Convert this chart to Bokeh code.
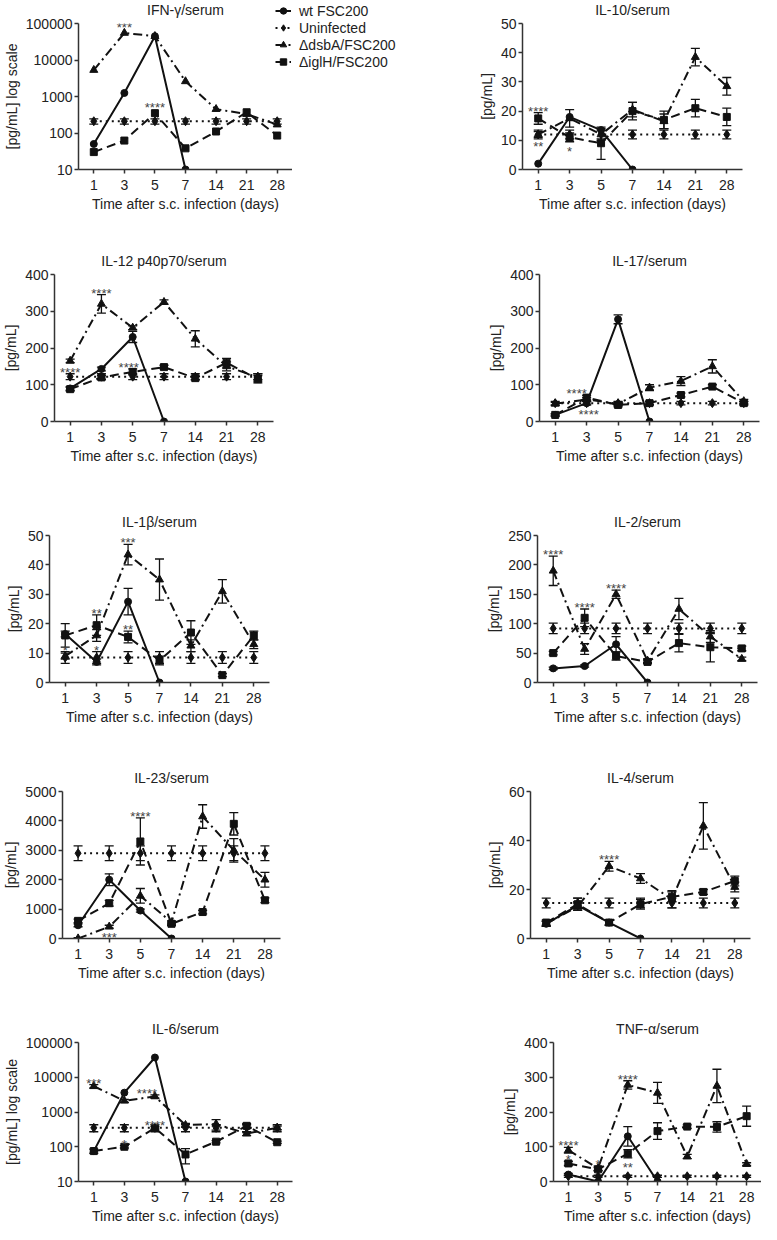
from bokeh.plotting import figure
from bokeh.layouts import column, row
from bokeh.models import (Range1d, FixedTicker, NumeralTickFormatter, Whisker, TeeHead,
                          ColumnDataSource, Legend, LegendItem)
from bokeh.embed import file_html
from bokeh.resources import INLINE
from bokeh.core.properties import value

FONT = "Liberation Sans"
DAYS = ["1", "3", "5", "7", "14", "21", "28"]
SERIES_NAMES = ["wt FSC200", "Uninfected", "ΔdsbA/FSC200", "ΔiglH/FSC200"]

# ---------------- data (value, error) ----------------
ifn_wt = [50, 1250, 45000, 10]
ifn_wt_err = [0, 0, 0, 0]
ifn_un = [210, 210, 210, 210, 210, 210, 210]
ifn_un_err = [35, 35, 35, 35, 35, 35, 35]
ifn_dsba = [5300, 55000, 45000, 2600, 450, 330, 170]
ifn_dsba_err = [0, 0, 0, 0, 0, 0, 0]
ifn_iglh = [30, 62, 350, 38, 110, 370, 85]
ifn_iglh_err = [0, 0, 0, 0, 0, 0, 0]

il10_wt = [2, 18, 13.5, 0]
il10_wt_err = [0, 0, 0, 0]
il10_un = [12, 12, 12, 12, 12, 12, 12]
il10_un_err = [1.5, 1.5, 1.5, 1.5, 1.5, 1.5, 1.5]
il10_dsba = [12, 17.5, 12, 20.5, 16.5, 38.5, 28.5]
il10_dsba_err = [1, 3, 2, 2.5, 2.5, 3, 3]
il10_iglh = [17.5, 11, 9, 20, 17, 21, 18]
il10_iglh_err = [2, 1.5, 5.5, 3, 3, 3, 3]

il12_wt = [90, 143, 230, 0]
il12_wt_err = [5, 5, 15, 0]
il12_un = [122, 122, 122, 122, 122, 122, 122]
il12_un_err = [8, 8, 8, 8, 8, 8, 8]
il12_dsba = [165, 320, 255, 325, 225, 150, 120]
il12_dsba_err = [5, 25, 5, 6, 22, 12, 10]
il12_iglh = [88, 120, 135, 148, 118, 160, 115]
il12_iglh_err = [5, 5, 8, 5, 5, 12, 10]

il17_wt = [18, 50, 278, 0]
il17_wt_err = [3, 5, 12, 0]
il17_un = [50, 50, 50, 50, 50, 50, 50]
il17_un_err = [5, 5, 5, 5, 5, 5, 5]
il17_dsba = [48, 60, 48, 92, 110, 150, 55]
il17_dsba_err = [4, 5, 5, 8, 12, 18, 5]
il17_iglh = [18, 65, 45, 50, 72, 95, 50]
il17_iglh_err = [3, 6, 5, 5, 5, 5, 5]

il1b_wt = [16.5, 7, 27.5, 0]
il1b_wt_err = [1, 1, 4.5, 0]
il1b_un = [8.5, 8.5, 8.5, 8.5, 8.5, 8.5, 8.5]
il1b_un_err = [2, 2, 2, 2, 2, 2, 2]
il1b_dsba = [9, 16, 43.5, 35, 12.5, 31, 13]
il1b_dsba_err = [1, 2, 3.5, 7, 2, 4, 1.5]
il1b_iglh = [16, 19.5, 15.5, 7.5, 17, 2.5, 16]
il1b_iglh_err = [4, 3.5, 2, 1.5, 4, 0.5, 1.5]

il2_wt = [24, 28, 65, 0]
il2_wt_err = [2, 2, 13, 0]
il2_un = [92, 92, 92, 92, 92, 92, 92]
il2_un_err = [9, 9, 9, 9, 9, 9, 9]
il2_dsba = [190, 57, 150, 37, 125, 78, 40]
il2_dsba_err = [25, 9, 7, 3, 18, 10, 3]
il2_iglh = [50, 110, 45, 35, 67, 60, 58]
il2_iglh_err = [3, 15, 7, 3, 15, 25, 4]

il23_wt = [450, 2000, 950, 0]
il23_wt_err = [50, 200, 50, 0]
il23_un = [2900, 2900, 2900, 2900, 2900, 2900, 2900]
il23_un_err = [250, 250, 250, 250, 250, 250, 250]
il23_dsba = [0, 400, 1450, 550, 4150, 3000, 2000]
il23_dsba_err = [30, 50, 250, 50, 400, 400, 250]
il23_iglh = [600, 1200, 3300, 500, 900, 3900, 1300]
il23_iglh_err = [60, 100, 800, 60, 60, 380, 80]

il4_wt = [6, 13.5, 6.5, 0]
il4_wt_err = [1, 1.5, 1, 0]
il4_un = [14.5, 14.5, 14.5, 14.5, 14.5, 14.5, 14.5]
il4_un_err = [2, 2, 2, 2, 2, 2, 2]
il4_dsba = [6, 13, 29.5, 24.5, 16, 46, 21]
il4_dsba_err = [1, 1.5, 2, 2, 3.5, 9.5, 2]
il4_iglh = [6.5, 14, 6.5, 14, 17, 19, 23.5]
il4_iglh_err = [1, 2.5, 1, 2, 2, 1, 2]

il6_wt = [75, 3600, 37000, 10]
il6_wt_err = [0, 0, 0, 0]
il6_un = [350, 350, 350, 350, 350, 350, 350]
il6_un_err = [80, 80, 80, 80, 80, 80, 80]
il6_dsba = [5500, 2100, 2800, 420, 450, 240, 350]
il6_dsba_err = [600, 200, 300, 50, 150, 30, 40]
il6_iglh = [75, 100, 350, 60, 140, 400, 135]
il6_iglh_err = [10, 8, 30, 28, 10, 60, 10]

tnf_wt = [20, 0, 130, 0]
tnf_wt_err = [3, 0, 28, 0]
tnf_un = [15, 15, 15, 15, 15, 15, 15]
tnf_un_err = [3, 3, 3, 3, 3, 3, 3]
tnf_dsba = [90, 38, 278, 255, 72, 275, 50]
tnf_dsba_err = [8, 6, 12, 30, 6, 48, 4]
tnf_iglh = [52, 35, 80, 145, 158, 157, 188]
tnf_iglh_err = [6, 5, 12, 24, 5, 15, 29]

# significance marks: (day, series, text, above?, x-offset px)
ifn_sig = [("3", "dsba", "***", True, 0), ("5", "iglh", "****", True, 0)]
il10_sig = [("1", "iglh", "****", True, 0), ("1", "dsba", "**", False, 0), ("3", "iglh", "*", False, 0)]
il12_sig = [("3", "dsba", "****", True, 0), ("1", "un", "****", True, 0), ("5", "iglh", "****", True, -4)]
il17_sig = [("3", "iglh", "****", True, -10), ("3", "wt", "****", False, 2)]
il1b_sig = [("1", "un", "*", True, 0), ("3", "un", "*", True, 0), ("3", "iglh", "**", True, 0),
            ("5", "dsba", "***", True, 0), ("5", "iglh", "**", True, 0)]
il2_sig = [("1", "dsba", "****", True, 0), ("3", "iglh", "****", True, 0), ("5", "dsba", "****", True, 0)]
il23_sig = [("5", "iglh", "****", True, 0), ("3", "dsba", "***", False, 0)]
il4_sig = [("5", "dsba", "****", True, 0)]
il6_sig = [("1", "dsba", "***", True, 0), ("5", "dsba", "****", True, -8),
           ("5", "iglh", "****", True, 0), ("3", "iglh", "*", True, 0)]
tnf_sig = [("1", "dsba", "****", True, 0), ("1", "iglh", "*", True, 0), ("3", "dsba", "*", True, 0),
           ("5", "dsba", "****", True, 0), ("5", "iglh", "**", False, 0)]

STYLE = {
    "un": dict(dash="2 4", marker="diamond", size=9),
    "iglh": dict(dash="9 5", marker="square", size=7),
    "dsba": dict(dash="9 4 2 4", marker="triangle", size=8),
    "wt": dict(dash="solid", marker="circle", size=7),
}
ORDER = ["un", "iglh", "dsba", "wt"]
INK = "#111111"


def style_axis(ax, label_standoff):
    ax.axis_line_color = "#333333"
    ax.axis_line_width = 1.5
    ax.major_tick_line_color = "#333333"
    ax.major_tick_line_width = 1.5
    ax.major_tick_out = 4
    ax.major_tick_in = 0
    ax.minor_tick_line_color = None
    ax.major_label_text_font = FONT
    ax.major_label_text_font_size = "14px"
    ax.major_label_text_color = "#222222"
    ax.major_label_standoff = label_standoff
    ax.axis_label_text_font = FONT
    ax.axis_label_text_font_size = "14px"
    ax.axis_label_text_font_style = "normal"
    ax.axis_label_text_color = "#222222"
    ax.axis_label_standoff = 3


def panel(title, log, ymax, yticks, data, sigs, lb, fw, rb, T, fh, B, tstand, mtop=0):
    kw = dict(y_axis_type="log") if log else {}
    yr = Range1d(10, 100000) if log else Range1d(0, ymax)
    p = figure(width=lb + fw + rb, height=T + fh + B, x_range=Range1d(0.5, 7.5), y_range=yr,
               output_backend="svg", toolbar_location=None, margin=(mtop, 0, 0, 0),
               min_border_left=lb, min_border_right=rb, min_border_top=T, min_border_bottom=B, **kw)
    p.title.text = title
    p.title.align = "center"
    p.title.text_font = FONT
    p.title.text_font_size = "14px"
    p.title.text_font_style = "normal"
    p.title.text_color = "#222222"
    p.title.standoff = tstand
    p.xgrid.visible = False
    p.ygrid.visible = False
    p.outline_line_color = None
    p.xaxis.ticker = FixedTicker(ticks=list(range(1, len(DAYS) + 1)))
    p.xaxis.major_label_overrides = {i + 1: dd for i, dd in enumerate(DAYS)}
    p.xaxis.axis_label = "Time after s.c. infection (days)"
    p.yaxis.ticker = FixedTicker(ticks=yticks)
    p.yaxis.formatter = NumeralTickFormatter(format="0")
    p.yaxis.axis_label = "[pg/mL] log scale" if log else "[pg/mL]"
    style_axis(p.xaxis[0], 6)
    style_axis(p.yaxis[0], 2)

    for key in ORDER:
        vals, errs = data[key]
        st = STYLE[key]
        xs = list(range(1, len(vals) + 1))
        src = ColumnDataSource(dict(x=xs, y=vals))
        p.line("x", "y", source=src, line_color=INK, line_width=2, line_dash=st["dash"])
        wx = [x for x, e in zip(xs, errs) if e > 0]
        wu = [v + e for v, e in zip(vals, errs) if e > 0]
        wl = [v - e for v, e in zip(vals, errs) if e > 0]
        if wx:
            wsrc = ColumnDataSource(dict(x=wx, upper=wu, lower=wl))
            p.add_layout(Whisker(source=wsrc, base="x", upper="upper", lower="lower",
                                 line_color=INK, line_width=1.3,
                                 upper_head=TeeHead(size=9, line_color=INK, line_width=1.3),
                                 lower_head=TeeHead(size=9, line_color=INK, line_width=1.3)))
        p.scatter("x", "y", source=src, marker=st["marker"], size=st["size"],
                  fill_color=INK, line_color=INK)

    for day, key, txt, above, dx in sigs:
        vals, errs = data[key]
        i = DAYS.index(day)
        y = vals[i] + errs[i] if above else vals[i] - errs[i]
        if log and y <= 0:
            y = 11
        if above:
            yo = 6 if errs[i] > 0 else 2
        else:
            yo = 2
        p.text(x=[i + 1], y=[y], text=[txt], x_offset=dx, y_offset=yo,
               text_align="center", text_baseline=("bottom" if above else "top"),
               text_font=value(FONT), text_font_size="13px", text_color="#444444")
    return p


def legend_fig():
    p = figure(width=167, height=251, x_range=Range1d(0, 1), y_range=Range1d(0, 1),
               output_backend="svg", toolbar_location=None, title_location=None,
               min_border_left=0, min_border_right=0, min_border_top=0, min_border_bottom=0,
               x_axis_location=None, y_axis_location=None, margin=(-28, 0, 0, -17))
    p.xgrid.visible = False
    p.ygrid.visible = False
    p.outline_line_color = None
    p.background_fill_color = None
    p.border_fill_color = None
    items = []
    for key, name in zip(["wt", "un", "dsba", "iglh"], SERIES_NAMES):
        st = STYLE[key]
        ln = p.line(x=[-5, -4], y=[-5, -4], line_color=INK, line_width=2, line_dash=st["dash"])
        mk = p.scatter(x=[-5], y=[-5], marker=st["marker"], size=st["size"],
                       fill_color=INK, line_color=INK)
        items.append(LegendItem(label=name, renderers=[ln, mk]))
    leg = Legend(items=items, location="top_left", background_fill_alpha=0,
                 border_line_color=None, padding=0, margin=0, spacing=0,
                 label_height=17, glyph_height=17, glyph_width=16, label_standoff=8,
                 label_text_font=FONT, label_text_font_size="14px", label_text_color="#222222")
    p.add_layout(leg)
    return p


def d(wt, wte, un, une, ds, dse, ig, ige):
    return {"wt": (wt, wte), "un": (un, une), "dsba": (ds, dse), "iglh": (ig, ige)}


LW, RW = 442, 319
log_ticks = [10, 100, 1000, 10000, 100000]

p_ifn = panel("IFN-γ/serum", True, None, log_ticks,
              d(ifn_wt, ifn_wt_err, ifn_un, ifn_un_err, ifn_dsba, ifn_dsba_err, ifn_iglh, ifn_iglh_err),
              ifn_sig, 72, 220, 0, 29, 147, 75, 12, mtop=-7)
p_leg = legend_fig()
p_il10 = panel("IL-10/serum", False, 50, [0, 10, 20, 30, 40, 50],
               d(il10_wt, il10_wt_err, il10_un, il10_un_err, il10_dsba, il10_dsba_err, il10_iglh, il10_iglh_err),
               il10_sig, 80, 220, RW - 80 - 220, 29, 147, 75, 12, mtop=-7)
p_il12 = panel("IL-12 p40p70/serum", False, 400, [0, 100, 200, 300, 400],
               d(il12_wt, il12_wt_err, il12_un, il12_un_err, il12_dsba, il12_dsba_err, il12_iglh, il12_iglh_err),
               il12_sig, 53, 220, LW - 53 - 220, 30, 147, 84, 12)
p_il17 = panel("IL-17/serum", False, 400, [0, 100, 200, 300, 400],
               d(il17_wt, il17_wt_err, il17_un, il17_un_err, il17_dsba, il17_dsba_err, il17_iglh, il17_iglh_err),
               il17_sig, 97, 220, RW - 97 - 220, 30, 147, 84, 12)
p_il1b = panel("IL-1β/serum", False, 50, [0, 10, 20, 30, 40, 50],
               d(il1b_wt, il1b_wt_err, il1b_un, il1b_un_err, il1b_dsba, il1b_dsba_err, il1b_iglh, il1b_iglh_err),
               il1b_sig, 49, 220, LW - 49 - 220, 30, 147, 79, 12)
p_il2 = panel("IL-2/serum", False, 250, [0, 50, 100, 150, 200, 250],
              d(il2_wt, il2_wt_err, il2_un, il2_un_err, il2_dsba, il2_dsba_err, il2_iglh, il2_iglh_err),
              il2_sig, 95, 220, RW - 95 - 220, 30, 147, 79, 12)
p_il23 = panel("IL-23/serum", False, 5000, [0, 1000, 2000, 3000, 4000, 5000],
               d(il23_wt, il23_wt_err, il23_un, il23_un_err, il23_dsba, il23_dsba_err, il23_iglh, il23_iglh_err),
               il23_sig, 60, 220, LW - 60 - 220, 30, 147, 75, 12)
p_il4 = panel("IL-4/serum", False, 60, [0, 20, 40, 60],
              d(il4_wt, il4_wt_err, il4_un, il4_un_err, il4_dsba, il4_dsba_err, il4_iglh, il4_iglh_err),
              il4_sig, 88, 220, RW - 88 - 220, 30, 147, 75, 12)
p_il6 = panel("IL-6/serum", True, None, log_ticks,
              d(il6_wt, il6_wt_err, il6_un, il6_un_err, il6_dsba, il6_dsba_err, il6_iglh, il6_iglh_err),
              il6_sig, 72, 220, LW - 72 - 220, 29, 144, 40, 11)
p_tnf = panel("TNF-α/serum", False, 400, [0, 100, 200, 300, 400],
              d(tnf_wt, tnf_wt_err, tnf_un, tnf_un_err, tnf_dsba, tnf_dsba_err, tnf_iglh, tnf_iglh_err),
              tnf_sig, 111, 208, RW - 111 - 208, 29, 144, 40, 11)

layout = column(row(p_ifn, p_leg, p_il10), row(p_il12, p_il17), row(p_il1b, p_il2),
                row(p_il23, p_il4), row(p_il6, p_tnf))

open("out.html", "w").write(file_html(layout, INLINE))
